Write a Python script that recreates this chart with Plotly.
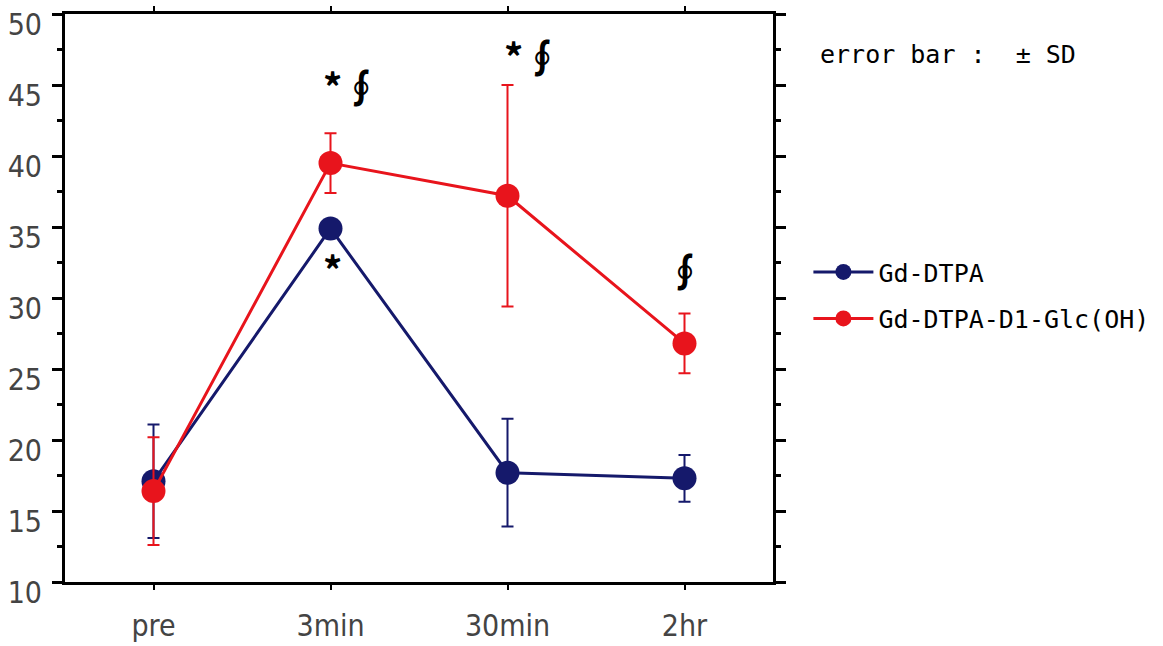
import plotly.graph_objects as go

categories = ["pre", "3min", "30min", "2hr"]
x_pos = [0, 1, 2, 3]

gd_dtpa_mean = [17.1, 34.9, 17.7, 17.3]
gd_dtpa_sd = [4.0, 0.5, 3.8, 1.65]

gd_glc_mean = [16.4, 39.5, 37.2, 26.8]
gd_glc_sd = [3.8, 2.1, 7.8, 2.1]

series_names = ["Gd-DTPA", "Gd-DTPA-D1-Glc(OH)"]
blue = "#15196b"
red = "#e8141c"

y_ticks = [10, 15, 20, 25, 30, 35, 40, 45, 50]

fig = go.Figure()
for i, (name, mean, sd, col) in enumerate([
    (series_names[0], gd_dtpa_mean, gd_dtpa_sd, blue),
    (series_names[1], gd_glc_mean, gd_glc_sd, red),
]):
    fig.add_trace(go.Scatter(
        x=x_pos, y=mean, name=name, mode="lines+markers",
        legendgroup=f"g{i}",
        line=dict(color=col, width=3),
        marker=dict(color=col, size=24, symbol="circle"),
        error_y=dict(type="data", array=sd, visible=True, color=col,
                     thickness=2, width=6),
    ))

ann_font = dict(family="Noto Sans CJK JP, DejaVu Sans", size=38, color="black")
annotations = [
    dict(x=1, y=45.0, text="<b>*∮</b>", xshift=21),
    dict(x=2, y=47.1, text="<b>*∮</b>", xshift=25),
    dict(x=3, y=32.0, text="<b>∮</b>", xshift=0),
    dict(x=1, y=32.1, text="<b>*</b>", xshift=2),
]
for a in annotations:
    fig.add_annotation(x=a["x"], y=a["y"], text=a["text"], xshift=a["xshift"],
                       showarrow=False, font=ann_font, xref="x", yref="y")

fig.add_annotation(x=1.063, y=0.958, xref="paper", yref="paper", xanchor="left",
                   text="error bar :  ± SD", showarrow=False,
                   font=dict(family="DejaVu Sans Mono", size=25, color="black"))

tick_font = dict(family="Liberation Sans Narrow, DejaVu Sans Condensed", size=30, color="#444444")

fig.update_layout(
    width=1163, height=646,
    margin=dict(l=65, r=390, t=14, b=64, autoexpand=False),
    plot_bgcolor="white", paper_bgcolor="white",
    showlegend=True,
    legend=dict(x=1.05, y=0.505, xanchor="left", yanchor="middle",
                font=dict(family="DejaVu Sans Mono", size=25, color="black"),
                itemwidth=60, tracegroupgap=11, bgcolor="rgba(0,0,0,0)"),
    xaxis=dict(range=[-0.5, 3.5], tickvals=x_pos, ticktext=categories,
               showline=True, linecolor="black", linewidth=3, mirror="ticks",
               ticks="outside", ticklen=5, tickwidth=2, tickcolor="black",
               showgrid=False, zeroline=False, tickfont=tick_font,
               ticklabelstandoff=10, automargin=False, ticklabeloverflow="allow"),
    yaxis=dict(range=[10, 50], tickvals=y_ticks,
               showline=True, linecolor="black", linewidth=3, mirror="ticks",
               ticks="outside", ticklen=10, tickwidth=3, tickcolor="black",
               showgrid=False, zeroline=False, tickfont=tick_font,
               ticklabelstandoff=4, ticklabelshift=10,
               automargin=False, ticklabeloverflow="allow",
               minor=dict(dtick=2.5, ticks="outside", ticklen=5, tickwidth=3,
                          tickcolor="black", showgrid=False)),
)

fig.write_html("out.html")
